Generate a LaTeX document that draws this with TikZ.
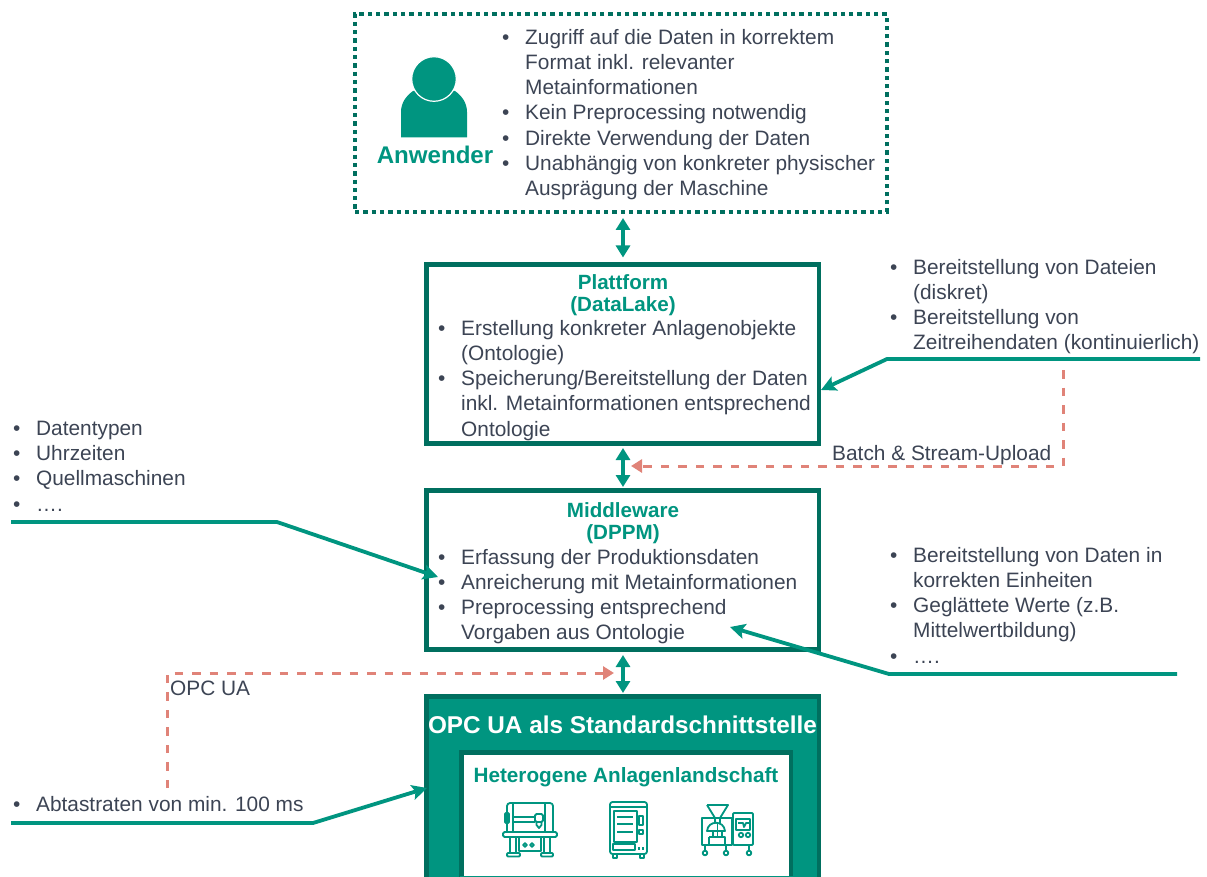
\documentclass[tikz,border=0pt]{standalone}
\usepackage{fontspec}
\setmainfont{Liberation Sans}
\usetikzlibrary{arrows.meta}
\definecolor{grn}{HTML}{009580}
\definecolor{drk}{HTML}{006F5F}
\definecolor{txtc}{HTML}{3C4454}
\definecolor{dsh}{HTML}{E08378}
\newcommand{\bi}[1]{\makebox[25pt][l]{\hspace{2pt}•}#1}
\newcommand{\cl}[1]{\hspace*{25pt}#1}
\tikzset{
  x=1pt,y=-1pt,
  blk/.style={anchor=north west,inner sep=0pt,align=left,text=txtc,font=\fontsize{20.85}{25.2}\selectfont},
  ttl/.style={inner sep=0pt,align=center,text=grn,font=\fontsize{20.6}{22.5}\selectfont\bfseries},
  box/.style={draw=drk,line width=4.6pt,fill=white,inner sep=0pt,outer sep=0pt,anchor=north west},
  link/.style={draw=grn,line width=3.8pt,-{Stealth[length=15pt,width=15pt,inset=3pt]}},
  dbl/.style={draw=grn,line width=4pt,{Triangle[length=12pt,width=14pt]}-{Triangle[length=12pt,width=14pt]}},
  pink/.style={draw=dsh,line width=3pt,dash pattern=on 8.5pt off 9pt,-{Triangle[length=11pt,width=13pt]}},
  ico/.style={draw=grn,line width=1.8pt,line join=round,fill=none},
}
\begin{document}
\begin{tikzpicture}
\useasboundingbox (0,0) rectangle (1207,877);
\clip (0,0) rectangle (1207,877);
% Anwender
\node[box,fill=none,line width=4.5pt,dash pattern=on 4.3pt off 4pt,minimum width=532pt,minimum height=198pt] (anw) at (355,14) {};
\fill[grn] (401,137.3) -- (401,112) .. controls (401,103) and (406,96) .. (413,91) -- (455,91) .. controls (462,96) and (467,103) .. (467,112) -- (467,137.3) -- cycle;
\fill[grn,draw=white,line width=1.2pt] (434,79) circle (22.3);
\node[anchor=center,inner sep=0pt,text=grn,font=\fontsize{24.1}{26}\selectfont\bfseries] (anwt) at (435,155) {Anwender};
\node[blk] (anwb) at (500,29) {\bi{Zugriff auf die Daten in korrektem}\\\cl{Format inkl. relevanter}\\\cl{Metainformationen}\\\bi{Kein Preprocessing notwendig}\\\bi{Direkte Verwendung der Daten}\\\bi{Unabhängig von konkreter physischer}\\\cl{Ausprägung der Maschine}};
% Plattform
\node[box,minimum width=392.3pt,minimum height=179pt] (pla) at (426.5,264.5) {};
\node[ttl] (plat) at (623,295) {Plattform\\(DataLake)};
\node[blk] (plab) at (436,320) {\bi{Erstellung konkreter Anlagenobjekte}\\\cl{(Ontologie)}\\\bi{Speicherung/Bereitstellung der Daten}\\\cl{inkl. Metainformationen entsprechend}\\\cl{Ontologie}};
% Middleware
\node[box,minimum width=392.3pt,minimum height=158.5pt] (mid) at (426.5,490.7) {};
\node[ttl] (midt) at (623,523) {Middleware\\(DPPM)};
\node[blk] (midb) at (436,549) {\bi{Erfassung der Produktionsdaten}\\\bi{Anreicherung mit Metainformationen}\\\bi{Preprocessing entsprechend}\\\cl{Vorgaben aus Ontologie}};
% OPC UA
\node[box,fill=grn,minimum width=392.3pt,minimum height=210pt] (opc) at (426.5,696.7) {};
\node[inner sep=0pt,text=white,font=\fontsize{24.3}{26}\selectfont\bfseries] (opct) at (622.5,725) {OPC UA als Standardschnittstelle};
\node[box,minimum width=329.5pt,minimum height=135pt] (het) at (461.5,752.3) {};
\fill[grn] (459.5,875.7) rectangle (793,877);
\node[inner sep=0pt,text=grn,font=\fontsize{20.7}{24}\selectfont\bfseries] (hett) at (626,777) {Heterogene Anlagenlandschaft};
% Icon 1
\draw[ico,rounded corners=1.5pt] (503,832) rectangle (557,837);
\draw[ico,rounded corners=3pt] (507,832) -- (507,803) -- (553,803) -- (553,832);
\draw[ico,rounded corners=1pt] (505,813) rectangle (509,823);
\draw[ico] (513,803) -- (513,832) (545,803) -- (545,832);
\draw[ico] (513,817) -- (535,817) (513,822) -- (535,822);
\draw[ico,rounded corners=1.5pt] (535,814) rectangle (543,822);
\draw[ico] (536.5,822) -- (536.5,825) -- (539,828) -- (541.5,825) -- (541.5,822);
\draw[ico] (510,837) -- (510,853) (516,837) -- (516,853) (544,837) -- (544,853) (550,837) -- (550,853);
\draw[ico,rounded corners=1pt] (507,853) rectangle (520,856.5);
\draw[ico,rounded corners=1pt] (541,853) rectangle (553,856.5);
\draw[ico] (519,837) -- (519,851) -- (541,851) -- (541,837);
\draw[ico] (525,845) circle (1.9) (532,845) circle (1.9);
% Icon 2
\draw[ico,rounded corners=2.5pt] (610,854) -- (610,802) -- (647,802) -- (647,854) -- cycle;
\draw[ico] (610,807) -- (647,807);
\draw[ico] (614,811) rectangle (637,842);
\draw[ico] (617,817) -- (633,817) (617,824) -- (633,824) (617,832) -- (633,832);
\draw[ico] (613,844) rectangle (635,850);
\draw[ico] (639,816) rectangle (643,825);
\draw[ico] (639,830) rectangle (643,834);
\draw[ico] (639,847) -- (639,850) (643,847) -- (643,850);
\draw[ico] (613,854) rectangle (617,858) (640,854) rectangle (644,858);
% Icon 3
\draw[ico] (707,805) -- (728,805) -- (720,818) -- (720,823) (707,805) -- (715,818) -- (715,823);
\draw[ico] (702,818) -- (732,818) -- (732,845) -- (702,845) -- cycle;
\draw[ico,rounded corners=1pt] (733,813) rectangle (753,845);
\draw[ico] (736,819) rectangle (750,830);
\draw[ico] (738,823) -- (743,823) -- (744,827) -- (746,823) -- (749,823);
\draw[ico] (741,835) circle (2.2) (748,835) circle (2.2);
\draw[ico] (707,831) .. controls (708,820) and (724,820) .. (725,831) -- cycle;
\draw[ico] (709,837) -- (725,837) -- (725,845) (709,837) -- (709,845);
\draw[ico] (713,831) -- (713,837) (717.5,824) -- (717.5,837) (722,831) -- (722,837);
\draw[ico] (705,845) -- (705,851) (726,845) -- (726,851) (749,845) -- (749,851);
\draw[ico] (705,853) circle (2.3) (726,853) circle (2.3) (749,853) circle (2.3);
% side texts
\node[blk] (tr) at (888,259) {\bi{Bereitstellung von Dateien}\\\cl{(diskret)}\\\bi{Bereitstellung von}\\\cl{Zeitreihendaten (kontinuierlich)}};
\node[blk] (tl) at (11,421) {\bi{Datentypen}\\\bi{Uhrzeiten}\\\bi{Quellmaschinen}\\\bi{….}};
\node[blk] (mr) at (888,547) {\bi{Bereitstellung von Daten in}\\\cl{korrekten Einheiten}\\\bi{Geglättete Werte (z.B.}\\\cl{Mittelwertbildung)}\\\bi{….}};
\node[blk] (bl) at (11,796) {\bi{Abtastraten von min. 100 ms}};
\node[blk] (bat) at (832,445) {Batch \& Stream-Upload};
\node[blk] (opl) at (170,681) {OPC UA};
% connectors
\coordinate (a1) at (1200,359);
\coordinate (a2) at (887,359);
\coordinate (a3) at (821,390);
\draw[link] (a1) -- (a2) -- (a3);
\coordinate (b1) at (11,522);
\coordinate (b2) at (277,522);
\coordinate (b3) at (438,577);
\draw[link] (b1) -- (b2) -- (b3);
\coordinate (c1) at (1177,674);
\coordinate (c2) at (889,674);
\coordinate (c3) at (730,627);
\draw[link] (c1) -- (c2) -- (c3);
\coordinate (d1) at (11,823);
\coordinate (d2) at (313,823);
\coordinate (d3) at (427,788);
\draw[link] (d1) -- (d2) -- (d3);
\draw[dbl] (623,218) -- (623,257.5);
\draw[dbl] (623,448) -- (623,487);
\draw[dbl] (623,655) -- (623,693);
\coordinate (e1) at (1063,370);
\coordinate (e2) at (1063,466);
\coordinate (e3) at (631,466);
\draw[pink] (e1) -- (e2) -- (e3);
\coordinate (f1) at (167,788);
\coordinate (f2) at (167,673);
\coordinate (f3) at (614,673);
\draw[pink] (f1) -- (f2) -- (f3);
\end{tikzpicture}
\end{document}
